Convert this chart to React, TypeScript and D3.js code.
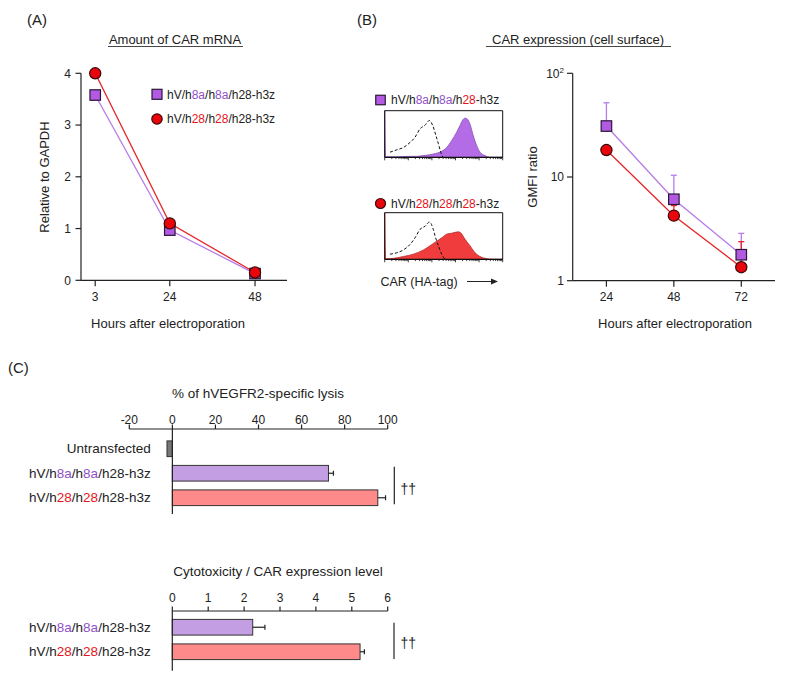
import React from 'react';
import * as d3 from 'd3';

// ---- data ----
const mrnaHours = [3, 24, 48];
const mrnaH8a = [3.58, 0.97, 0.13];
const mrnaH28 = [4.0, 1.1, 0.15];
const mrnaTicks = [0, 1, 2, 3, 4];

const gmfiHours = [24, 48, 72];
const gmfiH8a = [31, 6.1, 1.78];
const gmfiH8aTop = [52, 10.4, 2.86];
const gmfiH28 = [18.2, 4.24, 1.35];
const gmfiH28Top = [19, 5.3, 2.38];
const gmfiTicks = [1, 10, 100];

// histograms: [position % of axis, height % of box]
const histH8aFill: [number, number][] = [
  [0, 100], [0.8, 1], [10, 1], [20, 2], [27, 2], [32.8, 3.6], [41.2, 7], [48.3, 13], [52.5, 21],
  [56.8, 36], [61, 54], [63.8, 68], [66.1, 80], [68.1, 84], [70, 82], [72.3, 71], [75.1, 46],
  [78, 25], [80.8, 11], [85, 3.6], [89.3, 0], [100, 0],
];
const histH8aCtrl: [number, number][] = [
  [4.5, 11], [10.2, 16], [15.8, 21], [21.5, 32], [25.7, 43], [29.9, 61], [34.2, 69], [37.9, 79],
  [40.7, 68], [43.5, 46], [45.5, 29], [47.5, 11], [49.2, 0],
];
const histH28Fill: [number, number][] = [
  [0, 100], [0.8, 1], [7.3, 2], [15.8, 6], [24.3, 11], [32.8, 20], [38.4, 29], [44.1, 39], [48.3, 46],
  [52.5, 54], [56.8, 56], [62.4, 59], [64.4, 57], [68.1, 43], [72.3, 29], [76.6, 14], [80.8, 6],
  [86.4, 1.4], [92, 0], [100, 0],
];
const histH28Ctrl: [number, number][] = [
  [4.5, 11], [10.2, 14], [15.8, 20], [21.5, 32], [25.7, 46], [29.9, 64], [34.2, 71], [37.9, 80],
  [40.7, 68], [42.7, 50], [45.5, 29], [48.3, 11], [51.1, 0],
];

const lysisValues = [-2.5, 72.5, 95.4];
const lysisTop = [-2.5, 74.8, 99];
const lysisTicks = [-20, 0, 20, 40, 60, 80, 100];

const ratioValues = [2.24, 5.23];
const ratioTop = [2.58, 5.35];
const ratioTicks = [0, 1, 2, 3, 4, 5, 6];

// ---- styles ----
const FONT = 'Liberation Sans, Arial, sans-serif';
const purpleMarker = '#b25ae2';
const purpleLine = '#b67ce8';
const redMarker = '#e8060c';
const redLine = '#e82428';
const purpleText = '#9150c8';
const redText = '#e8141c';
const purpleBar = '#c49ee2';
const redBar = '#ff8a8a';
const greyBar = '#777777';

type Seg = { t: string; c?: string };
const labH8a: Seg[] = [{ t: 'hV/h' }, { t: '8a', c: purpleText }, { t: '/h' }, { t: '8a', c: purpleText }, { t: '/h28-h3z' }];
const labH28: Seg[] = [{ t: 'hV/h' }, { t: '28', c: redText }, { t: '/h' }, { t: '28', c: redText }, { t: '/h28-h3z' }];
const labH8aB: Seg[] = [{ t: 'hV/h' }, { t: '8a', c: purpleText }, { t: '/h' }, { t: '8a', c: purpleText }, { t: '/h' }, { t: '28', c: redText }, { t: '-h3z' }];
const labH28B: Seg[] = [{ t: 'hV/h' }, { t: '28', c: redText }, { t: '/h' }, { t: '28', c: redText }, { t: '/h' }, { t: '28', c: redText }, { t: '-h3z' }];

const SegText = ({ x, y, segs, size, anchor = 'start' }: { x: number; y: number; segs: Seg[]; size: number; anchor?: string }) => (
  <text x={x} y={y} fontSize={size} textAnchor={anchor as any} fill="#222">
    {segs.map((s, i) => (
      <tspan key={i} fill={s.c || '#222'}>{s.t}</tspan>
    ))}
  </text>
);

const Square = ({ cx, cy, s, fill }: { cx: number; cy: number; s: number; fill: string }) => (
  <rect x={cx - s / 2} y={cy - s / 2} width={s} height={s} fill={fill} stroke="#2a1838" strokeWidth={1.2} />
);
const Dot = ({ cx, cy, r, fill }: { cx: number; cy: number; r: number; fill: string }) => (
  <circle cx={cx} cy={cy} r={r} fill={fill} stroke="#3a0808" strokeWidth={1.2} />
);

const Histogram = ({ x0, y0, w, h, fill, fillPts, ctrlPts }: { x0: number; y0: number; w: number; h: number; fill: string; fillPts: [number, number][]; ctrlPts: [number, number][] }) => {
  const xs = d3.scaleLinear().domain([0, 100]).range([x0, x0 + w]);
  const ys = d3.scaleLinear().domain([0, 100]).range([y0 + h, y0]);
  const area = d3.area<[number, number]>().x(d => xs(d[0])).y0(y0 + h).y1(d => ys(d[1])).curve(d3.curveMonotoneX);
  const line = d3.line<[number, number]>().x(d => xs(d[0])).y(d => ys(d[1])).curve(d3.curveMonotoneX);
  const logX = d3.scaleLog().domain([1, 1e5]).range([x0, x0 + w]);
  return (
    <g>
      <path d={area(fillPts) || ''} fill={fill} stroke={d3.color(fill)!.darker(0.8).toString()} strokeWidth={0.8} />
      <path d={line(ctrlPts) || ''} fill="none" stroke="#111" strokeWidth={1} strokeDasharray="3,2" />
      <path d={`M${x0},${y0 + h}V${y0}H${x0 + w}V${y0 + h}`} fill="none" stroke="#111" strokeWidth={1} />
      <line x1={x0} x2={x0 + w} y1={y0 + h} y2={y0 + h} stroke="#111" strokeWidth={1.2} />
      {logX.ticks().map((t, i) => {
        const major = Math.abs(Math.log10(t) - Math.round(Math.log10(t))) < 1e-9;
        return <line key={i} x1={logX(t)} x2={logX(t)} y1={y0 + h} y2={y0 + h + (major ? 3 : 1.8)} stroke="#111" strokeWidth={0.8} />;
      })}
    </g>
  );
};

export default function App() {
  // panel A scales
  const xA = d3.scaleLinear().domain([-1, 57]).range([81, 287]);
  const yA = d3.scaleLinear().domain([0, 4]).range([280.3, 73.3]);
  const lineA = d3.line<number>().x((_, i) => xA(mrnaHours[i])).y(d => yA(d));

  // panel B scales
  const xB = d3.scaleLinear().domain([12, 84]).range([572.7, 775]);
  const yB = d3.scaleLog().domain([1, 100]).range([280.7, 73.3]);
  const lineB = d3.line<number>().x((_, i) => xB(gmfiHours[i])).y(d => yB(d));

  // panel C scales
  const xC = d3.scaleLinear().domain([-20, 100]).range([129.3, 387.7]);
  const yC = d3.scaleBand<number>().domain([0, 1, 2]).range([436.5, 510]).paddingInner(0.36).paddingOuter(0.18);
  const xD = d3.scaleLinear().domain([0, 6]).range([172.3, 387.7]);
  const yD = d3.scaleBand<number>().domain([0, 1]).range([615, 664]).paddingInner(0.36).paddingOuter(0.18);

  const lysisFill = [greyBar, purpleBar, redBar];
  const lysisLabels: (Seg[])[] = [[{ t: 'Untransfected' }], labH8a, labH28];

  return (
    <svg width={787} height={682} style={{ position: 'absolute', left: 0, top: 0, background: '#fff' }} fontFamily={FONT}>
      {/* ===== Panel A ===== */}
      <text x={27} y={25} fontSize={15} fill="#222">(A)</text>
      <text x={175} y={43.5} fontSize={13} textAnchor="middle" fill="#222">Amount of CAR mRNA</text>
      <line x1={108} x2={243} y1={46.5} y2={46.5} stroke="#333" strokeWidth={0.9} />
      <line x1={81} x2={81} y1={yA(4)} y2={yA(0)} stroke="#222" strokeWidth={1.2} />
      <line x1={81} x2={287} y1={yA(0)} y2={yA(0)} stroke="#222" strokeWidth={1.2} />
      {mrnaTicks.map(t => (
        <g key={t}>
          <line x1={75.5} x2={81} y1={yA(t)} y2={yA(t)} stroke="#222" strokeWidth={1.2} />
          <text x={71} y={yA(t)} dy="0.36em" fontSize={12} textAnchor="end" fill="#222">{t}</text>
        </g>
      ))}
      {mrnaHours.map(h => (
        <g key={h}>
          <line x1={xA(h)} x2={xA(h)} y1={yA(0)} y2={yA(0) + 6} stroke="#222" strokeWidth={1.2} />
          <text x={xA(h)} y={301} fontSize={12} textAnchor="middle" fill="#222">{h}</text>
        </g>
      ))}
      <text transform="translate(49,177) rotate(-90)" fontSize={13} textAnchor="middle" fill="#222">Relative to GAPDH</text>
      <text x={168} y={327.5} fontSize={13} textAnchor="middle" fill="#222">Hours after electroporation</text>
      <path d={lineA(mrnaH8a) || ''} fill="none" stroke={purpleLine} strokeWidth={1.3} />
      <path d={lineA(mrnaH28) || ''} fill="none" stroke={redLine} strokeWidth={1.3} />
      {mrnaH8a.map((v, i) => <Square key={i} cx={xA(mrnaHours[i])} cy={yA(v)} s={10.5} fill={purpleMarker} />)}
      {mrnaH28.map((v, i) => <Dot key={i} cx={xA(mrnaHours[i])} cy={yA(v)} r={5.6} fill={redMarker} />)}
      <Square cx={157} cy={94.3} s={10} fill={purpleMarker} />
      <SegText x={167} y={98.5} segs={labH8a} size={12} />
      <Dot cx={157} cy={119} r={5.2} fill={redMarker} />
      <SegText x={167} y={123.2} segs={labH28} size={12} />

      {/* ===== Panel B ===== */}
      <text x={357} y={25} fontSize={15} fill="#222">(B)</text>
      <text x={578} y={43.5} fontSize={13} textAnchor="middle" fill="#222">CAR expression (cell surface)</text>
      <line x1={486} x2={671} y1={46.5} y2={46.5} stroke="#333" strokeWidth={0.9} />
      <Square cx={380.5} cy={100} s={9.5} fill={purpleMarker} />
      <SegText x={391} y={104.3} segs={labH8aB} size={12} />
      <Histogram x0={384.7} y0={110.7} w={118} h={46.6} fill="#b46ce6" fillPts={histH8aFill} ctrlPts={histH8aCtrl} />
      <Dot cx={380.5} cy={203.5} r={5} fill={redMarker} />
      <SegText x={391} y={207.8} segs={labH28B} size={12} />
      <Histogram x0={384.7} y0={212.7} w={118} h={46.6} fill="#f03c3c" fillPts={histH28Fill} ctrlPts={histH28Ctrl} />
      <text x={380.5} y={286} fontSize={12.5} fill="#222">CAR (HA-tag)</text>
      <line x1={467} x2={492} y1={281.5} y2={281.5} stroke="#222" strokeWidth={1} />
      <path d="M491,278.5L498,281.5L491,284.5Z" fill="#222" />

      <line x1={572.7} x2={572.7} y1={yB(100)} y2={yB(1)} stroke="#222" strokeWidth={1.2} />
      <line x1={572.7} x2={775} y1={yB(1)} y2={yB(1)} stroke="#222" strokeWidth={1.2} />
      {gmfiTicks.map(t => (
        <g key={t}>
          <line x1={567} x2={572.7} y1={yB(t)} y2={yB(t)} stroke="#222" strokeWidth={1.2} />
          <text x={564} y={yB(t)} dy="0.36em" fontSize={12} textAnchor="end" fill="#222">
            {t === 100 ? <><tspan>10</tspan><tspan dy="-5" fontSize={8}>2</tspan></> : t}
          </text>
        </g>
      ))}
      {gmfiHours.map(h => (
        <g key={h}>
          <line x1={xB(h)} x2={xB(h)} y1={yB(1)} y2={yB(1) + 6} stroke="#222" strokeWidth={1.2} />
          <text x={xB(h)} y={301} fontSize={12} textAnchor="middle" fill="#222">{h}</text>
        </g>
      ))}
      <text transform="translate(537,177) rotate(-90)" fontSize={13} textAnchor="middle" fill="#222">GMFI ratio</text>
      <text x={675} y={327.5} fontSize={13} textAnchor="middle" fill="#222">Hours after electroporation</text>
      {gmfiH8aTop.map((t, i) => (
        <g key={'pe' + i} stroke={purpleLine} strokeWidth={1.3}>
          <line x1={xB(gmfiHours[i])} x2={xB(gmfiHours[i])} y1={yB(gmfiH8a[i])} y2={yB(t)} />
          <line x1={xB(gmfiHours[i]) - 3} x2={xB(gmfiHours[i]) + 3} y1={yB(t)} y2={yB(t)} />
        </g>
      ))}
      {gmfiH28Top.map((t, i) => (
        <g key={'re' + i} stroke={redLine} strokeWidth={1.3}>
          <line x1={xB(gmfiHours[i])} x2={xB(gmfiHours[i])} y1={yB(gmfiH28[i])} y2={yB(t)} />
          <line x1={xB(gmfiHours[i]) - 3} x2={xB(gmfiHours[i]) + 3} y1={yB(t)} y2={yB(t)} />
        </g>
      ))}
      <path d={lineB(gmfiH8a) || ''} fill="none" stroke={purpleLine} strokeWidth={1.3} />
      <path d={lineB(gmfiH28) || ''} fill="none" stroke={redLine} strokeWidth={1.3} />
      {gmfiH8a.map((v, i) => <Square key={i} cx={xB(gmfiHours[i])} cy={yB(v)} s={10.5} fill={purpleMarker} />)}
      {gmfiH28.map((v, i) => <Dot key={i} cx={xB(gmfiHours[i])} cy={yB(v)} r={5.6} fill={redMarker} />)}

      {/* ===== Panel C ===== */}
      <text x={8} y={373} fontSize={15} fill="#222">(C)</text>
      <text x={258} y={397.5} fontSize={13.5} textAnchor="middle" fill="#222">% of hVEGFR2-specific lysis</text>
      <line x1={xC(-20)} x2={xC(100)} y1={429} y2={429} stroke="#222" strokeWidth={1.2} />
      {lysisTicks.map(t => (
        <g key={t}>
          <line x1={xC(t)} x2={xC(t)} y1={424.5} y2={429} stroke="#222" strokeWidth={1.2} />
          <text x={xC(t)} y={423.5} fontSize={12} textAnchor="middle" fill="#222">{t}</text>
        </g>
      ))}
      {lysisValues.map((v, i) => {
        const y = yC(i)!;
        const bw = yC.bandwidth();
        return (
          <g key={i}>
            <rect x={Math.min(xC(0), xC(v))} y={y} width={Math.abs(xC(v) - xC(0))} height={bw} fill={lysisFill[i]} stroke="#333" strokeWidth={1} />
            {lysisTop[i] !== v && (
              <g stroke="#222" strokeWidth={1.2}>
                <line x1={xC(v)} x2={xC(lysisTop[i])} y1={y + bw / 2} y2={y + bw / 2} />
                <line x1={xC(lysisTop[i])} x2={xC(lysisTop[i])} y1={y + bw / 2 - 2.5} y2={y + bw / 2 + 2.5} />
              </g>
            )}
            <SegText x={150.7} y={y + bw / 2 + 4.7} segs={lysisLabels[i]} size={13.5} anchor="end" />
          </g>
        );
      })}
      <line x1={xC(0)} x2={xC(0)} y1={429} y2={514} stroke="#222" strokeWidth={1.2} />
      <line x1={394.3} x2={394.3} y1={466.7} y2={504.3} stroke="#222" strokeWidth={1.2} />
      <text x={400.5} y={494} fontSize={14} fill="#222">††</text>

      <text x={278} y={576} fontSize={13.5} textAnchor="middle" fill="#222">Cytotoxicity / CAR expression level</text>
      <line x1={xD(0)} x2={xD(6)} y1={611} y2={611} stroke="#222" strokeWidth={1.2} />
      {ratioTicks.map(t => (
        <g key={t}>
          <line x1={xD(t)} x2={xD(t)} y1={606.5} y2={611} stroke="#222" strokeWidth={1.2} />
          <text x={xD(t)} y={602} fontSize={12} textAnchor="middle" fill="#222">{t}</text>
        </g>
      ))}
      {ratioValues.map((v, i) => {
        const y = yD(i)!;
        const bw = yD.bandwidth();
        return (
          <g key={i}>
            <rect x={xD(0)} y={y} width={xD(v) - xD(0)} height={bw} fill={i === 0 ? purpleBar : redBar} stroke="#333" strokeWidth={1} />
            <g stroke="#222" strokeWidth={1.2}>
              <line x1={xD(v)} x2={xD(ratioTop[i])} y1={y + bw / 2} y2={y + bw / 2} />
              <line x1={xD(ratioTop[i])} x2={xD(ratioTop[i])} y1={y + bw / 2 - 2.5} y2={y + bw / 2 + 2.5} />
            </g>
            <SegText x={150.7} y={y + bw / 2 + 4.7} segs={i === 0 ? labH8a : labH28} size={13.5} anchor="end" />
          </g>
        );
      })}
      <line x1={xD(0)} x2={xD(0)} y1={611} y2={670.7} stroke="#222" strokeWidth={1.2} />
      <line x1={394} x2={394} y1={622.7} y2={659} stroke="#222" strokeWidth={1.2} />
      <text x={400.5} y={648} fontSize={14} fill="#222">††</text>
    </svg>
  );
}
